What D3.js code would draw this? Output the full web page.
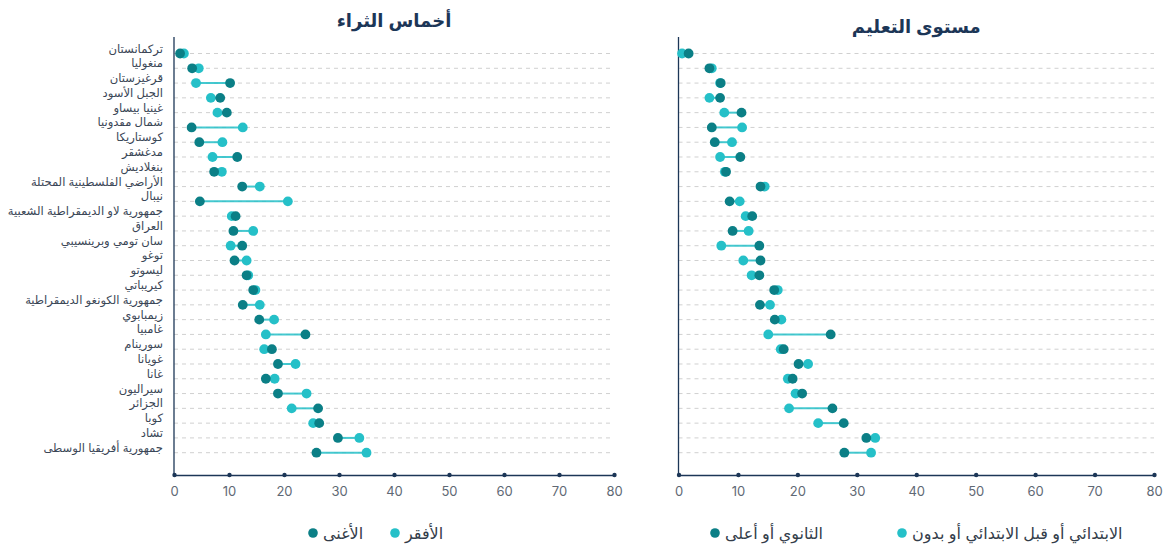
<!DOCTYPE html>
<html><head><meta charset="utf-8">
<script src="https://cdn.jsdelivr.net/npm/d3@7"></script>
<style>
body{margin:0;background:#fff;}
svg{display:block;}
</style></head>
<body><svg id="c" width="1174" height="551"></svg>
<script>
const countries = ["تركمانستان","منغوليا","قرغيزستان","الجبل الأسود","غينيا بيساو","شمال مقدونيا","كوستاريكا","مدغشقر","بنغلاديش","الأراضي الفلسطينية المحتلة","نيبال","جمهورية لاو الديمقراطية الشعبية","العراق","سان تومي وبرينسيبي","توغو","ليسوتو","كيريباتي","جمهورية الكونغو الديمقراطية","زيمبابوي","غامبيا","سورينام","غويانا","غانا","سيراليون","الجزائر","كوبا","تشاد","جمهورية أفريقيا الوسطى"];

const wealthRichest = [1.1,3.3,10.2,8.4,9.6,3.2,4.6,11.5,7.3,12.4,4.7,11.2,10.8,12.4,11.0,13.2,14.4,12.5,15.5,23.9,17.8,18.9,16.7,18.9,26.2,26.4,29.8,25.9];
const wealthPoorest = [1.8,4.5,4.0,6.7,7.9,12.5,8.8,7.0,8.7,15.6,20.7,10.5,14.4,10.3,13.2,13.5,14.8,15.6,18.2,16.7,16.4,22.1,18.3,24.1,21.4,25.3,33.7,35.0];

const eduSecondary = [1.7,5.2,7.1,7.0,10.6,5.6,6.1,10.4,8.0,13.8,8.6,12.4,9.1,13.6,13.8,13.6,16.1,13.7,16.2,25.6,17.7,20.2,19.2,20.8,25.9,27.8,31.6,27.9];
const eduPrimary = [0.6,5.6,7.0,5.2,7.7,10.7,9.0,7.0,7.8,14.5,10.3,11.3,11.8,7.2,10.9,12.3,16.7,15.4,17.3,15.1,17.2,21.8,18.4,19.7,18.6,23.5,33.1,32.4];

const xTicks = [0,10,20,30,40,50,60,70,80];
const panelTitles = ["أخماس الثراء","مستوى التعليم"];
const legendWealth = ["الأغنى","الأفقر"];
const legendEdu = ["الثانوي أو أعلى","الابتدائي أو قبل الابتدائي أو بدون"];

const DARK = "#0b7f86", LIGHT = "#25c0c8", NAVY = "#1c3657";

const svg = d3.select("#c");
const y = d3.scalePoint().domain(countries).range([53.5, 452.7]);

function panel(x, hi, lo, title, titleY, showLabels, legend, legX){
  const g = svg.append("g");
  const [x0,x1] = x.range();
  g.selectAll("line.grid").data(countries).join("line")
    .attr("x1", x0).attr("x2", x1)
    .attr("y1", d=>y(d)).attr("y2", d=>y(d))
    .attr("stroke","#d0d0d0").attr("stroke-width",1).attr("stroke-dasharray","4,4");
  g.append("line").attr("x1",x0).attr("x2",x0).attr("y1",37).attr("y2",475)
    .attr("stroke",NAVY).attr("stroke-width",1.3);
  const ax = g.append("g").attr("transform","translate(0,475)")
    .call(d3.axisBottom(x).tickValues(xTicks).tickSize(0).tickPadding(12));
  ax.select(".domain").attr("stroke",NAVY).attr("stroke-width",1.3);
  ax.selectAll(".tick text").attr("fill","#5f6975").attr("font-size",13).attr("font-family","Inter, 'Noto Sans', sans-serif");
  ax.selectAll(".tick").append("circle").attr("r",2.2).attr("fill",NAVY);
  g.selectAll("line.conn").data(countries).join("line")
    .attr("x1",(d,i)=>x(hi[i])).attr("x2",(d,i)=>x(lo[i]))
    .attr("y1",d=>y(d)).attr("y2",d=>y(d))
    .attr("stroke",LIGHT).attr("stroke-width",2).attr("stroke-opacity",0.85);
  g.selectAll("circle.lo").data(countries).join("circle")
    .attr("cx",(d,i)=>x(lo[i])).attr("cy",d=>y(d)).attr("r",4.9).attr("fill",LIGHT);
  g.selectAll("circle.hi").data(countries).join("circle")
    .attr("cx",(d,i)=>x(hi[i])).attr("cy",d=>y(d)).attr("r",4.9).attr("fill",DARK);
  if(showLabels){
    g.selectAll("text.lab").data(countries).join("text")
      .attr("x", x0-11).attr("y", d=>y(d)-1)
      .attr("text-anchor","end").attr("font-size",11.6)
      .attr("font-family","'Liberation Sans', Arial, 'DejaVu Sans', sans-serif")
      .attr("fill","#3a4656").text(d=>d);
  }
  svg.append("text").attr("x",(x0+x1)/2).attr("y",titleY)
    .attr("text-anchor","middle").attr("font-size",18).attr("font-weight","bold")
    .attr("font-family","'Liberation Sans', Arial, 'DejaVu Sans', sans-serif")
    .attr("fill",NAVY).text(title);
  const lg = svg.append("g").attr("transform","translate(0,533)");
  const cols = [DARK, LIGHT];
  legend.forEach((t,i)=>{
    lg.append("circle").attr("cx",legX[i]).attr("cy",0).attr("r",4.8).attr("fill",cols[i]);
    lg.append("text").attr("x",legX[i]+10).attr("y",5.5).attr("text-anchor","start")
      .attr("font-size",16).attr("font-family","'Liberation Sans', Arial, 'DejaVu Sans', sans-serif")
      .attr("fill","#333d4a").text(t);
  });
}

const xL = d3.scaleLinear().domain([0,80]).range([174,614]);
const xR = d3.scaleLinear().domain([0,80]).range([678.5,1154]);
panel(xL, wealthRichest, wealthPoorest, panelTitles[0], 27, true, legendWealth, [313,395]);
panel(xR, eduSecondary, eduPrimary, panelTitles[1], 33, false, legendEdu, [715,902]);
</script></body></html>
